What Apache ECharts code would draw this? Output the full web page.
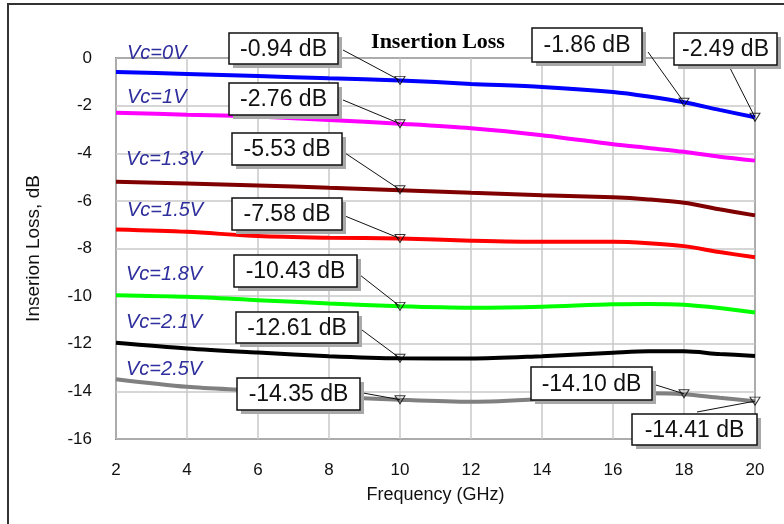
<!DOCTYPE html>
<html>
<head>
<meta charset="utf-8">
<script src="https://cdn.jsdelivr.net/npm/echarts@6/dist/echarts.min.js"></script>
<style>
html,body{margin:0;padding:0;background:#fff;}
#c{width:784px;height:524px;}
</style>
</head>
<body>
<div id="c"></div>
<script>
// ---- data ----
var freq = [2, 4, 6, 8, 10, 12, 14, 16, 17, 18, 19, 20];
var vc0  = [-0.59, -0.67, -0.76, -0.85, -0.94, -1.09, -1.22, -1.43, -1.62, -1.86, -2.18, -2.49];
var vc1  = [-2.30, -2.38, -2.46, -2.60, -2.76, -2.95, -3.24, -3.62, -3.78, -3.94, -4.15, -4.31];
var vc13 = [-5.20, -5.27, -5.35, -5.45, -5.55, -5.66, -5.76, -5.85, -5.94, -6.08, -6.35, -6.61];
var vc15 = [-7.20, -7.30, -7.48, -7.55, -7.58, -7.67, -7.72, -7.72, -7.78, -7.90, -8.15, -8.37];
var vc18 = [-9.96, -10.03, -10.17, -10.31, -10.43, -10.49, -10.45, -10.34, -10.33, -10.36, -10.50, -10.69];
var vc21 = [-11.96, -12.20, -12.37, -12.52, -12.61, -12.62, -12.52, -12.38, -12.32, -12.32, -12.43, -12.51];
var vc25 = [-13.49, -13.81, -13.98, -14.20, -14.35, -14.44, -14.33, -14.13, -14.08, -14.12, -14.27, -14.41];
var seriesNames = ['Vc=0V', 'Vc=1V', 'Vc=1.3V', 'Vc=1.5V', 'Vc=1.8V', 'Vc=2.1V', 'Vc=2.5V'];

var markerFreq = [10, 10, 10, 10, 10, 10, 10, 18, 20, 18, 20];
var markerVal  = [-0.94, -2.76, -5.53, -7.58, -10.43, -12.61, -14.35, -1.86, -2.49, -14.10, -14.41];
var markerText = ['-0.94 dB', '-2.76 dB', '-5.53 dB', '-7.58 dB', '-10.43 dB', '-12.61 dB', '-14.35 dB', '-1.86 dB', '-2.49 dB', '-14.10 dB', '-14.41 dB'];

var xTicks = [2, 4, 6, 8, 10, 12, 14, 16, 18, 20];
var yTicks = [0, -2, -4, -6, -8, -10, -12, -14, -16];

// ---- layout / style (not data) ----
var colors = ['#0000ff', '#ff00ff', '#800000', '#ff0000', '#00ff00', '#000000', '#808080'];
var vcLabelPos = [[127, 53], [127, 97], [126, 159], [127, 210], [126, 274], [126, 322], [126, 369]];
// box: x, y, w, h, leader start x, y
var boxLayout = [
  [229, 33, 109, 31, 343, 50],
  [229, 83, 109, 32, 343, 100],
  [232, 133, 110, 32, 345, 153],
  [232, 198, 110, 32, 345, 216],
  [234, 255, 123, 32, 360, 275],
  [236, 312, 122, 31, 362, 330],
  [237, 378, 123, 32, 363, 393],
  [532, 28, 110, 34, 648, 52],
  [674, 33, 103, 32, 730, 68],
  [531, 367, 121, 33, 656, 385],
  [632, 414, 125, 31, 697, 412]
];

function pairs(ys) { return freq.map(function (f, i) { return [f, ys[i]]; }); }
var allVals = [vc0, vc1, vc13, vc15, vc18, vc21, vc25];

var series = allVals.map(function (vals, i) {
  return {
    name: seriesNames[i], type: 'line', data: pairs(vals), smooth: 0.3,
    showSymbol: false, symbol: 'none', silent: true,
    lineStyle: { color: colors[i], width: 4 }, z: 2
  };
});
series.push({
  type: 'scatter', silent: true, z: 5,
  data: markerFreq.map(function (f, i) { return [f, markerVal[i]]; }),
  symbol: 'triangle', symbolRotate: 180, symbolSize: [10, 8],
  itemStyle: { color: 'rgba(0,0,0,0)', borderColor: '#000', borderWidth: 1 }
});

var chart = echarts.init(document.getElementById('c'), null, { renderer: 'canvas' });
var font = 'Arial, "Liberation Sans", sans-serif';
chart.setOption({
  backgroundColor: '#fff',
  animation: false,
  title: {
    text: 'Insertion Loss', left: 433, top: 26, textAlign: 'center',
    textStyle: { fontFamily: '"Times New Roman", "Liberation Serif", serif', fontWeight: 'bold', fontSize: 22, color: '#000' }
  },
  grid: { left: 116, right: 29, top: 58, bottom: 85, show: true, borderColor: '#222', borderWidth: 1.5, backgroundColor: 'transparent' },
  xAxis: {
    type: 'value', min: xTicks[0], max: xTicks[xTicks.length - 1], interval: 2,
    name: 'Frequency (GHz)', nameLocation: 'middle', nameGap: 47,
    nameTextStyle: { fontFamily: font, fontSize: 18, color: '#111' },
    axisLine: { show: false }, axisTick: { show: false },
    axisLabel: { margin: 23, fontFamily: font, fontSize: 17, color: '#111' },
    splitLine: { show: true, lineStyle: { color: '#c8c8c8', width: 1.5 } }
  },
  yAxis: {
    type: 'value', min: yTicks[yTicks.length - 1], max: yTicks[0], interval: 2,
    name: 'Inserion Loss, dB', nameLocation: 'middle', nameGap: 73,
    nameTextStyle: { fontFamily: font, fontSize: 19, color: '#111' },
    axisLine: { show: false }, axisTick: { show: false },
    axisLabel: { margin: 24, fontFamily: font, fontSize: 17, color: '#111' },
    splitLine: { show: true, lineStyle: { color: '#c8c8c8', width: 1.5 } }
  },
  series: series
});

// ---- annotations ----
var g = [];
g.push({ type: 'rect', shape: { x: 8, y: 4, width: 800, height: 600 }, style: { fill: 'none', stroke: '#333', lineWidth: 2 }, silent: true, z: 0 });
seriesNames.forEach(function (n, i) {
  g.push({ type: 'text', x: vcLabelPos[i][0], y: vcLabelPos[i][1], silent: true, z: 10,
    style: { text: n, fill: '#2e2e9c', font: 'italic 20px Arial, "Liberation Sans", sans-serif', textVerticalAlign: 'middle', verticalAlign: 'middle' } });
});
markerVal.forEach(function (v, i) {
  var p = chart.convertToPixel({ gridIndex: 0 }, [markerFreq[i], v]);
  var b = boxLayout[i];
  g.push({ type: 'line', shape: { x1: b[4], y1: b[5], x2: p[0], y2: p[1] }, style: { stroke: '#111', lineWidth: 1 }, silent: true, z: 10 });
  g.push({ type: 'rect', shape: { x: b[0] + 4, y: b[1] + 4, width: b[2], height: b[3] }, style: { fill: '#a8a8a8' }, silent: true, z: 11 });
  g.push({ type: 'rect', shape: { x: b[0], y: b[1], width: b[2], height: b[3] }, style: { fill: '#fff', stroke: '#111', lineWidth: 1.5 }, silent: true, z: 12 });
  g.push({ type: 'text', x: b[0] + b[2] / 2, y: b[1] + b[3] / 2 + 1, silent: true, z: 13,
    style: { text: markerText[i], fill: '#111', font: '23px Arial, "Liberation Sans", sans-serif', align: 'center', verticalAlign: 'middle', textAlign: 'center', textVerticalAlign: 'middle' } });
});
chart.setOption({ graphic: { elements: g } });
</script>
</body>
</html>
